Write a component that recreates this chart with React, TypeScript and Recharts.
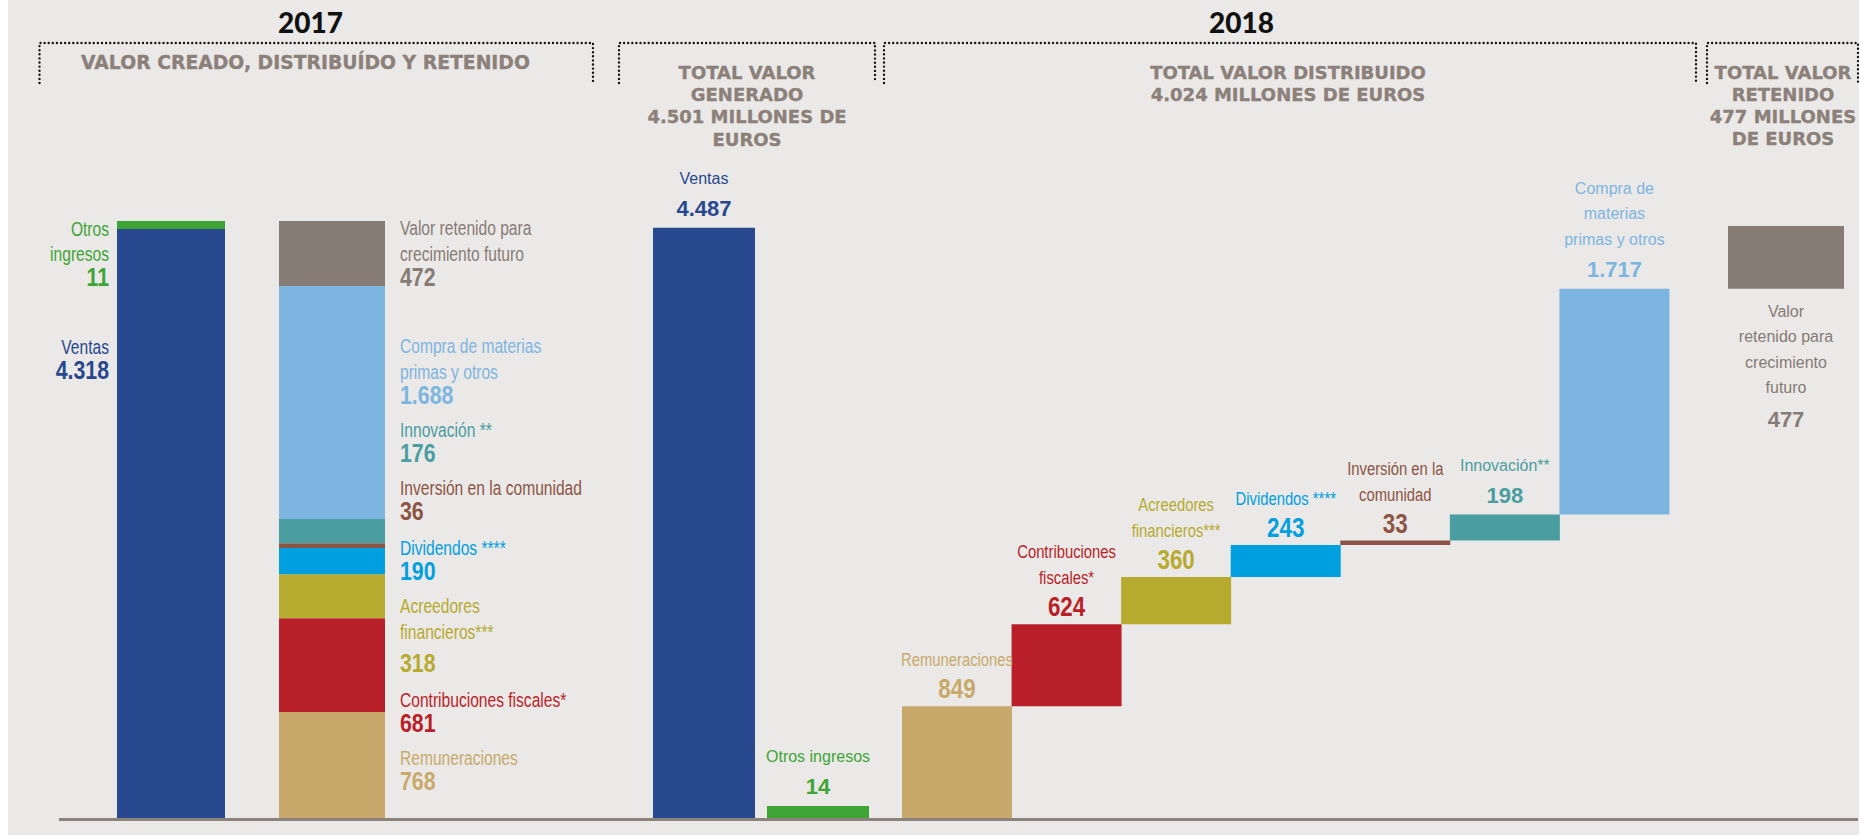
import React from 'react';
import { BarChart, Bar, XAxis, YAxis, Cell, LabelList } from 'recharts';

// 2017: valor generado (ventas, otros ingresos)
const gen2017Labels = ['Ventas', 'Otros\ningresos'];
const gen2017Values = [4318, 11];

// 2017: valor distribuido y retenido (de abajo arriba)
const dist2017Labels = [
  'Remuneraciones',
  'Contribuciones fiscales*',
  'Acreedores\nfinancieros***',
  'Dividendos ****',
  'Inversión en la comunidad',
  'Innovación **',
  'Compra de materias\nprimas y otros',
  'Valor retenido para\ncrecimiento futuro',
];
const dist2017Values = [768, 681, 318, 190, 36, 176, 1688, 472];

// 2018
const gen2018Labels = ['Ventas', 'Otros ingresos'];
const gen2018Values = [4487, 14];

const dist2018Labels = [
  'Remuneraciones',
  'Contribuciones\nfiscales*',
  'Acreedores\nfinancieros***',
  'Dividendos ****',
  'Inversión en la\ncomunidad',
  'Innovación**',
  'Compra de\nmaterias\nprimas y otros',
];
const dist2018Values = [849, 624, 360, 243, 33, 198, 1717];

const retained2018Label = 'Valor\nretenido para\ncrecimiento\nfuturo';
const retained2018Value = 477;

// styles
const BG = '#ebe9e7';
const BLUE = '#27488f';
const GREEN = '#3ea535';
const GREY = '#867b75';
const HEAD_GREY = '#8b807a';
const distColors = ['#c8a96b', '#b91f29', '#b6aa2f', '#00a0e0', '#8c5444', '#4a9da0', '#7db5e1', GREY];
const narrow2018 = [true, true, true, true, true, false, false];
// label baselines of the 2017 right-hand column (layout only)
const labelY2017 = [765, 707, 613, 555, 495, 437, 353, 235];

const SANS = "'Liberation Sans', Arial, sans-serif";
const HEAD = "'DejaVu Sans', sans-serif";

const fmt = (n: number) => String(n).replace(/\B(?=(\d{3})+(?!\d))/g, '.');
const sum = (a: number[]) => a.reduce((s, v) => s + v, 0);

const FLOOR = 818;

// text block: name lines + bold number; sx < 1 squeezes it like a condensed face
function Block({ x, y, anchor, lines, num, color, size, numSize, lh, numGap, sx = 1, nsx = 1 }: any) {
  return (
    <g fill={color} fontFamily={SANS}>
      {lines.map((t: string, i: number) => (
        <text key={i} transform={`translate(${x},${y + i * lh}) scale(${sx},1)`} textAnchor={anchor} fontSize={size}>
          {t}
        </text>
      ))}
      <text
        transform={`translate(${x},${y + (lines.length - 1) * lh + numGap}) scale(${nsx},1)`}
        textAnchor={anchor}
        fontSize={numSize}
        fontWeight="bold"
      >
        {num}
      </text>
    </g>
  );
}

const geo = (p: any) => ({ ...p, ...(p.viewBox || {}) });

// label above a bar, centred
function aboveLabel(labels: string[], values: number[], colors: string[], narrow: boolean[]) {
  return (p: any) => {
    const { x, y, width, index } = geo(p);
    const lines = labels[index].split('\n');
    const n = narrow[index];
    const lh = n ? 26 : 25.5;
    const numGap = 32;
    const numY = y - (n ? 8 : 12);
    const first = numY - numGap - (lines.length - 1) * lh;
    return (
      <Block
        x={x + width / 2}
        y={first}
        anchor="middle"
        lines={lines}
        num={fmt(values[index])}
        color={colors[index]}
        size={n ? 19 : 16}
        numSize={n ? 28 : 22}
        lh={lh}
        numGap={numGap}
        sx={n ? 0.78 : 1}
        nsx={n ? 0.8 : 1}
      />
    );
  };
}

// keeps a very thin stacked segment visible (grows downward over the segment below)
const MinRect = (p: any) => (
  <rect x={p.x} y={p.y} width={p.width} height={Math.max(p.height, 8)} fill={p.fill} />
);

export default function App() {
  const total2017 = sum(dist2017Values);
  const total2018 = sum(gen2018Values);
  const distributed2018 = sum(dist2018Values);

  const row2017gen = [{ name: '2017', ventas: gen2017Values[0], otros: gen2017Values[1] }];
  const row2017dist: any = { name: '2017' };
  dist2017Values.forEach((v, i) => (row2017dist[`s${i}`] = v));

  const rows2018gen = gen2018Labels.map((name, i) => ({ name, value: gen2018Values[i] }));
  let acc = 0;
  const rows2018dist = dist2018Labels.map((name, i) => {
    const r = { name, base: acc, value: dist2018Values[i] };
    acc += dist2018Values[i];
    return r;
  });
  const rows2018ret = [{ name: 'retenido', base: distributed2018, value: retained2018Value }];

  const m2017 = { top: 221, right: 0, bottom: 0, left: 0 };
  const m2018 = { top: 226, right: 0, bottom: 0, left: 0 };

  const abs = (left: number): React.CSSProperties => ({ position: 'absolute', left, top: 0 });

  return (
    <div style={{ position: 'absolute', left: 0, top: 0, width: 1865, height: 836, background: '#fff' }}>
      <style>{'.recharts-surface{overflow:visible}'}</style>
      <div style={{ position: 'absolute', left: 8, top: 0, width: 1851, height: 835, background: BG }} />

      {/* 2017 generado */}
      <div style={abs(117)}>
        <BarChart width={108} height={FLOOR} data={row2017gen} margin={m2017} barCategoryGap={0}>
          <XAxis dataKey="name" hide />
          <YAxis hide type="number" domain={[0, total2017]} allowDataOverflow scale="linear" />
          <Bar dataKey="ventas" stackId="g" fill={BLUE} isAnimationActive={false}>
            <LabelList
              dataKey="ventas"
              content={(p: any) => {
                const { x, y } = geo(p);
                return (
                  <Block x={x - 8} y={y + 131} anchor="end" lines={gen2017Labels[0].split('\n')}
                    num={fmt(gen2017Values[0])} color={BLUE} size={19.5} numSize={26} lh={25} numGap={25} sx={0.8} nsx={0.82} />
                );
              }}
            />
          </Bar>
          <Bar dataKey="otros" stackId="g" fill={GREEN} shape={MinRect} isAnimationActive={false}>
            <LabelList
              dataKey="otros"
              content={(p: any) => {
                const { x, y } = geo(p);
                return (
                  <Block x={x - 8} y={y + 15} anchor="end" lines={gen2017Labels[1].split('\n')}
                    num={fmt(gen2017Values[1])} color={GREEN} size={19.5} numSize={26} lh={25} numGap={25} sx={0.8} nsx={0.82} />
                );
              }}
            />
          </Bar>
        </BarChart>
      </div>

      {/* 2017 distribuido */}
      <div style={abs(279)}>
        <BarChart width={106} height={FLOOR} data={[row2017dist]} margin={m2017} barCategoryGap={0}>
          <XAxis dataKey="name" hide />
          <YAxis hide type="number" domain={[0, total2017]} allowDataOverflow scale="linear" />
          {dist2017Values.map((_, i) => (
            <Bar key={i} dataKey={`s${i}`} stackId="d" fill={distColors[i]} isAnimationActive={false}>
              <LabelList
                dataKey={`s${i}`}
                content={(p: any) => {
                  const { x, width } = geo(p);
                  return (
                    <Block x={x + width + 15} y={labelY2017[i]} anchor="start" lines={dist2017Labels[i].split('\n')}
                      num={fmt(dist2017Values[i])} color={distColors[i]} size={19.5} numSize={26}
                      lh={25.5} numGap={i === 2 ? 33 : 25} sx={0.8} nsx={0.82} />
                  );
                }}
              />
            </Bar>
          ))}
        </BarChart>
      </div>

      {/* 2018 generado */}
      <div style={abs(647)}>
        <BarChart width={228} height={FLOOR} data={rows2018gen} margin={m2018} barCategoryGap={6}>
          <XAxis dataKey="name" hide />
          <YAxis hide type="number" domain={[0, total2018]} allowDataOverflow scale="linear" />
          <Bar dataKey="value" minPointSize={12} isAnimationActive={false}>
            {rows2018gen.map((_, i) => (
              <Cell key={i} fill={i === 0 ? BLUE : GREEN} />
            ))}
            <LabelList dataKey="value" content={aboveLabel(gen2018Labels, gen2018Values, [BLUE, GREEN], [false, false])} />
          </Bar>
        </BarChart>
      </div>

      {/* 2018 distribuido (cascada) */}
      <div style={abs(902)}>
        <BarChart width={767} height={FLOOR} data={rows2018dist} margin={m2018} barCategoryGap={0}>
          <XAxis dataKey="name" hide />
          <YAxis hide type="number" domain={[0, total2018]} allowDataOverflow scale="linear" />
          <Bar dataKey="base" stackId="w" fill="transparent" isAnimationActive={false} />
          <Bar dataKey="value" stackId="w" isAnimationActive={false}>
            {rows2018dist.map((_, i) => (
              <Cell key={i} fill={distColors[i]} />
            ))}
            <LabelList dataKey="value" content={aboveLabel(dist2018Labels, dist2018Values, distColors, narrow2018)} />
          </Bar>
        </BarChart>
      </div>

      {/* 2018 retenido */}
      <div style={abs(1728)}>
        <BarChart width={116} height={FLOOR} data={rows2018ret} margin={m2018} barCategoryGap={0}>
          <XAxis dataKey="name" hide />
          <YAxis hide type="number" domain={[0, total2018]} allowDataOverflow scale="linear" />
          <Bar dataKey="base" stackId="r" fill="transparent" isAnimationActive={false} />
          <Bar dataKey="value" stackId="r" fill={GREY} isAnimationActive={false}>
            <LabelList
              dataKey="value"
              content={(p: any) => {
                const { x, y, width, height } = geo(p);
                return (
                  <Block x={x + width / 2} y={y + height + 28} anchor="middle" lines={retained2018Label.split('\n')}
                    num={fmt(retained2018Value)} color={GREY} size={16} numSize={22} lh={25.5} numGap={34} />
                );
              }}
            />
          </Bar>
        </BarChart>
      </div>

      {/* headings, brackets and floor line */}
      <svg width={1865} height={836} style={{ position: 'absolute', left: 0, top: 0, pointerEvents: 'none' }}>
        <g fontFamily="Lato, 'DejaVu Sans', sans-serif" fontWeight={900} fontSize={28} fill="#111" textAnchor="middle">
          <text x={310.5} y={33}>2017</text>
          <text x={1241.5} y={33}>2018</text>
        </g>
        <g fill="none" stroke="#151515" strokeWidth={2.4} strokeDasharray="0 4.1" strokeLinecap="round">
          <path d="M39.5 83 V43 H593 V83" />
          <path d="M619 83 V43 H875 V83" />
          <path d="M884 83 V43 H1696 V83" />
          <path d="M1707 83 V43 H1858 V83" />
        </g>
        <g fontFamily={HEAD} fontWeight="bold" fontSize={18} fill={HEAD_GREY} stroke={HEAD_GREY} strokeWidth={0.35} textAnchor="middle">
          <text x={305.5} y={69} fontSize={18.8}>VALOR CREADO, DISTRIBUÍDO Y RETENIDO</text>
          <text x={747} y={79}>TOTAL VALOR</text>
          <text x={747} y={101}>GENERADO</text>
          <text x={747} y={123}>{`${fmt(total2018)} MILLONES DE`}</text>
          <text x={747} y={146}>EUROS</text>
          <text x={1288} y={79}>TOTAL VALOR DISTRIBUIDO</text>
          <text x={1288} y={101}>{`${fmt(distributed2018)} MILLONES DE EUROS`}</text>
          <text x={1783} y={79}>TOTAL VALOR</text>
          <text x={1783} y={101}>RETENIDO</text>
          <text x={1783} y={123}>{`${fmt(retained2018Value)} MILLONES`}</text>
          <text x={1783} y={145}>DE EUROS</text>
        </g>
        <line x1={59} x2={1858} y1={819.5} y2={819.5} stroke="#8d837d" strokeWidth={3} />
      </svg>
    </div>
  );
}
